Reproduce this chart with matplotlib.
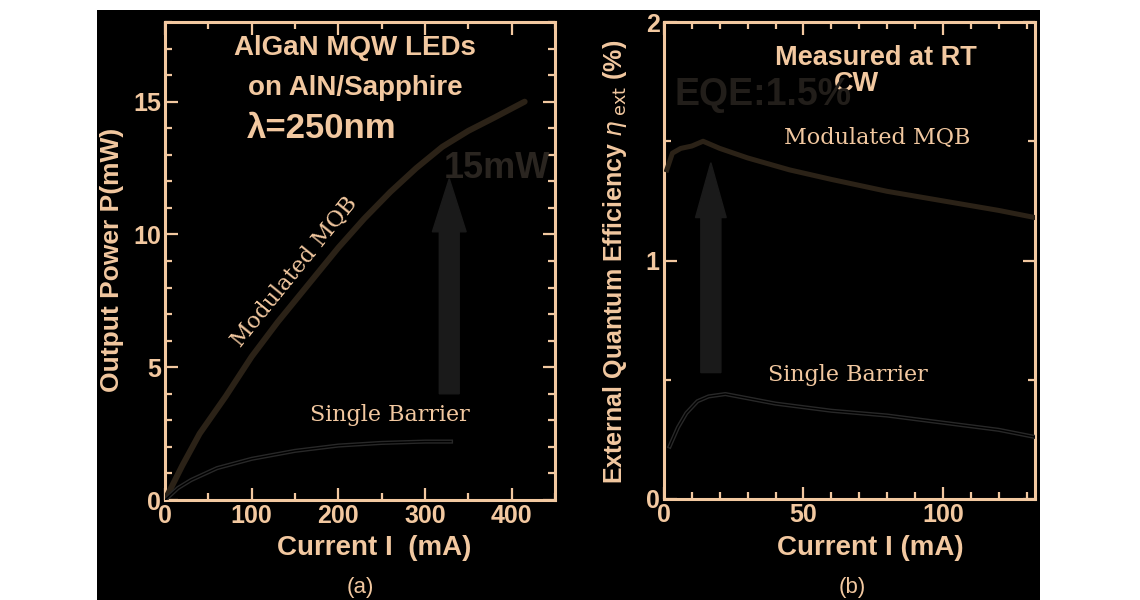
import matplotlib
matplotlib.use("Agg")
import matplotlib.pyplot as plt
from matplotlib.patches import Rectangle
from matplotlib.ticker import MultipleLocator

# ---------------- data ----------------
# (a) Output power vs current
mqb_I = [0, 20, 40, 70, 100, 130, 170, 200, 230, 260, 290, 320, 350, 380, 415]
mqb_P = [0, 1.3, 2.5, 3.9, 5.4, 6.7, 8.3, 9.5, 10.6, 11.6, 12.5, 13.3, 13.9, 14.4, 15.0]
sb_I = [0, 15, 30, 60, 100, 150, 200, 250, 300, 330]
sb_P = [0, 0.45, 0.75, 1.2, 1.55, 1.85, 2.05, 2.15, 2.2, 2.2]

# (b) EQE vs current
mqb_eqe_I = [1, 3, 6, 10, 14, 20, 30, 45, 60, 80, 100, 120, 133]
mqb_eqe = [1.38, 1.45, 1.47, 1.48, 1.50, 1.47, 1.43, 1.38, 1.34, 1.29, 1.25, 1.21, 1.18]
sb_eqe_I = [2, 5, 8, 12, 16, 22, 40, 60, 80, 100, 120, 133]
sb_eqe = [0.22, 0.30, 0.36, 0.41, 0.43, 0.44, 0.40, 0.37, 0.35, 0.32, 0.29, 0.26]

xticks_a = [0, 100, 200, 300, 400]
yticks_a = [0, 5, 10, 15]
xticks_b = [0, 50, 100]
yticks_b = [0, 1, 2]

# ---------------- style ----------------
PEACH = "#F2C8A0"
W, H = 1140, 600
fig = plt.figure(figsize=(W / 100, H / 100), dpi=100, facecolor="white")

def fx(px):
    return px / W

def fy(py):
    return 1 - py / H

# black background panel (drawn beneath the axes)
fig.patches.append(Rectangle((fx(97), 0), fx(1040) - fx(97), fy(10), transform=fig.transFigure,
                             facecolor="black", edgecolor="none", zorder=-5))

SANS = ["Liberation Sans", "DejaVu Sans"]
SERIF = ["DejaVu Serif"]

def style_ax(ax, xmin, ymin, xt, yt):
    ax.set_facecolor("black")
    for s in ax.spines.values():
        s.set_color(PEACH)
        s.set_linewidth(2.2)
    ax.set_xticks(xt)
    ax.set_yticks(yt)
    ax.xaxis.set_minor_locator(MultipleLocator(xmin))
    ax.yaxis.set_minor_locator(MultipleLocator(ymin))
    ax.tick_params(which="both", direction="in", top=True, right=True, color=PEACH,
                   labelcolor=PEACH, width=1.6)
    ax.tick_params(which="major", length=9, pad=3)
    ax.tick_params(which="minor", length=5)
    for lab in ax.get_xticklabels() + ax.get_yticklabels():
        lab.set_fontfamily(SANS)
        lab.set_fontweight("bold")
        lab.set_fontsize(18)

# ---------------- panel (a) ----------------
axa = fig.add_axes([fx(165), fy(500), fx(555) - fx(165), fy(22) - fy(500)])
axa.set_xlim(0, 450)
axa.set_ylim(0, 18)
axa.plot(mqb_I, mqb_P, color="#2b2217", lw=4.3, solid_capstyle="round",
         solid_joinstyle="round", zorder=3)
axa.plot(sb_I, sb_P, color="#282828", lw=3.0, zorder=3)
axa.plot(sb_I, sb_P, color="black", lw=1.0, zorder=4)
axa.arrow(328, 4.0, 0, 8.1, width=23, head_width=39, head_length=2.0,
          length_includes_head=True, color="#1a1a1a", zorder=2)
style_ax(axa, 50, 1, xticks_a, yticks_a)

# ---------------- panel (b) ----------------
axb = fig.add_axes([fx(664), fy(499), fx(1035) - fx(664), fy(22) - fy(499)])
axb.set_xlim(0, 133)
axb.set_ylim(0, 2)
axb.plot(mqb_eqe_I, mqb_eqe, color="#2b2217", lw=3.6, solid_joinstyle="round", zorder=3)
axb.plot(sb_eqe_I, sb_eqe, color="#282828", lw=3.0, zorder=3)
axb.plot(sb_eqe_I, sb_eqe, color="black", lw=1.0, zorder=4)
axb.arrow(16.8, 0.53, 0, 0.88, width=7.2, head_width=11, head_length=0.23,
          length_includes_head=True, color="#1a1a1a", zorder=2)
style_ax(axb, 10, 0.5, xticks_b, yticks_b)

# ---------------- texts ----------------
def ftext(px, py, s, **kw):
    fig.text(fx(px), fy(py), s, **kw)

bold = dict(family=SANS, fontweight="bold", color=PEACH)
ftext(355, 48, "AlGaN MQW LEDs", ha="center", va="center", fontsize=20, **bold)
ftext(355, 88, "on AlN/Sapphire", ha="center", va="center", fontsize=20, **bold)
ftext(247, 128, "λ=250nm", ha="left", va="center", fontsize=25, **bold)
ftext(497, 168, "15mW", ha="center", va="center", fontsize=26, family=SANS,
      fontweight="bold", color="#2a2520")
ftext(295, 272, "Modulated MQB", ha="center", va="center", fontsize=16, family=SERIF,
      color=PEACH, rotation=51)
ftext(390, 415, "Single Barrier", ha="center", va="center", fontsize=16, family=SERIF,
      color=PEACH)
ftext(112, 260, "Output Power P(mW)", ha="center", va="center", rotation=90,
      fontsize=19, **bold)
ftext(374, 548, "Current I  (mA)", ha="center", va="center", fontsize=20, **bold)
ftext(360, 588, "(a)", ha="center", va="center", fontsize=16, family=SANS, color=PEACH)

ftext(876, 58, "Measured at RT", ha="center", va="center", fontsize=19.5, **bold)
ftext(856, 84, "CW", ha="center", va="center", fontsize=19.5, **bold)
ftext(763, 95, "EQE:1.5%", ha="center", va="center", fontsize=27, family=SANS,
      fontweight="bold", color="#221e1a")
ftext(877, 138, "Modulated MQB", ha="center", va="center", fontsize=16, family=SERIF,
      color=PEACH)
ftext(848, 375, "Single Barrier", ha="center", va="center", fontsize=16, family=SERIF,
      color=PEACH)
ftext(615, 262, r"External Quantum Efficiency $\eta_{\ \mathrm{ext}}$ (%)", ha="center",
      va="center", rotation=90, fontsize=18, **bold)
ftext(870, 548, "Current I (mA)", ha="center", va="center", fontsize=20, **bold)
ftext(852, 588, "(b)", ha="center", va="center", fontsize=16, family=SANS, color=PEACH)

fig.savefig("out.png", dpi=100, facecolor=fig.get_facecolor())
